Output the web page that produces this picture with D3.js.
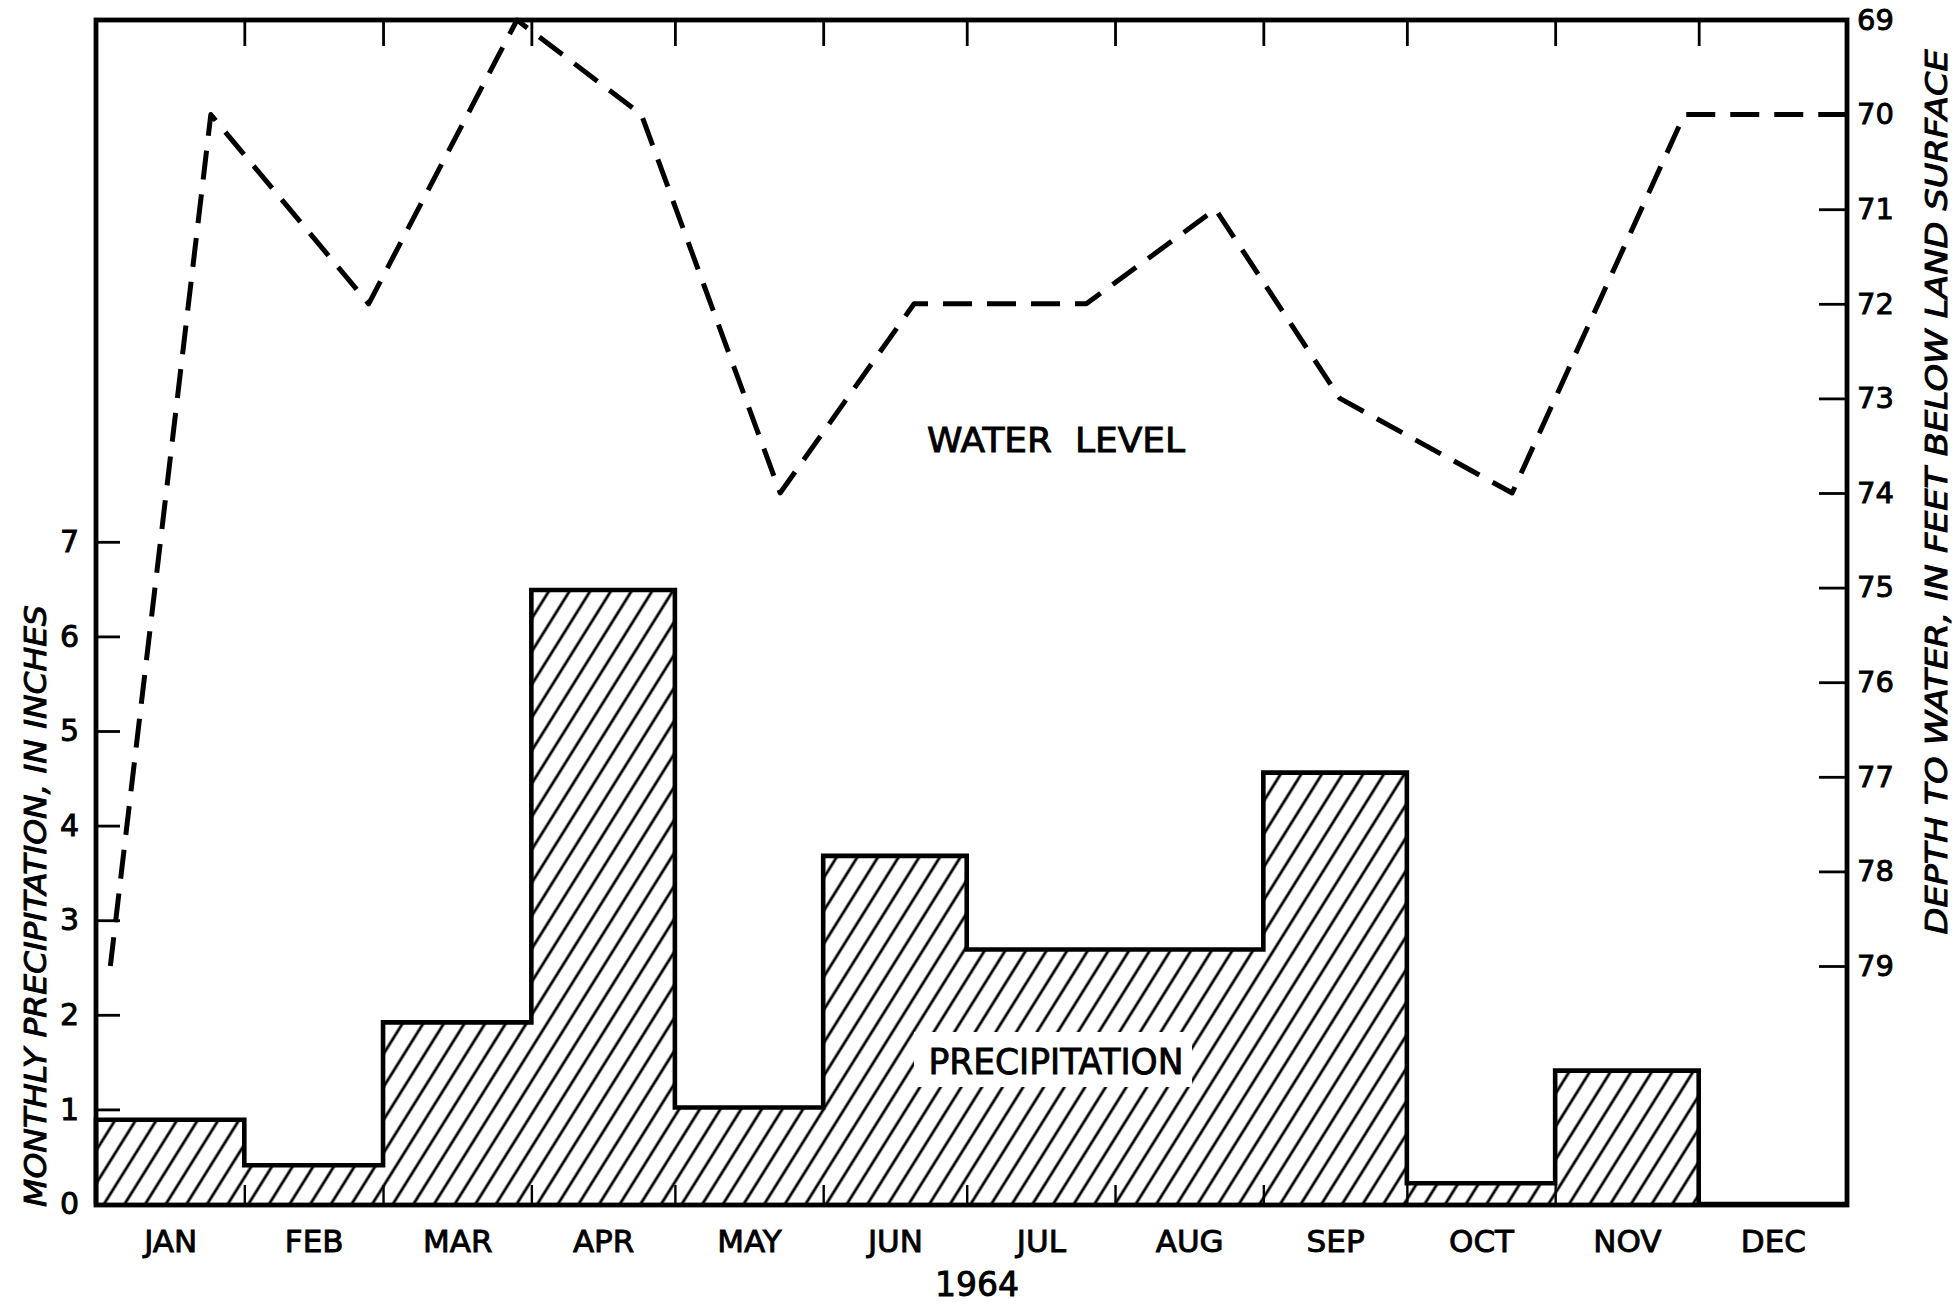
<!DOCTYPE html>
<html><head><meta charset="utf-8">
<script src="https://cdn.jsdelivr.net/npm/d3@7"></script>
<style>body{margin:0;background:#fff}svg{display:block}</style>
</head><body>
<svg id="chart" width="1955" height="1305"></svg>
<script>
// ---- data ----
const months = ["JAN","FEB","MAR","APR","MAY","JUN","JUL","AUG","SEP","OCT","NOV","DEC"];
const precipitation = [0.89, 0.41, 1.92, 6.49, 1.02, 3.68, 2.69, 2.69, 4.56, 0.22, 1.41, 0];
const levelDates = ["1964-01-04","1964-01-25","1964-02-27","1964-03-29","1964-04-24","1964-05-23",
                    "1964-06-20","1964-07-26","1964-08-22","1964-09-17","1964-10-23","1964-11-28","1965-01-01"];
const depthToWater = [79, 70, 72, 69, 70, 74, 72, 72, 71, 73, 74, 70, 70];
const precipTicks = [0,1,2,3,4,5,6,7];
const depthTicks = [69,70,71,72,73,74,75,76,77,78,79];
const yearLabel = "1964";
const leftTitle = "MONTHLY PRECIPITATION, IN INCHES";
const rightTitle = "DEPTH TO WATER, IN FEET BELOW LAND SURFACE";

// ---- layout ----
const L = 96, R = 1847, T = 20, B = 1205;
const parse = d3.utcParse("%Y-%m-%d");
const start = parse("1964-01-01"), end = parse("1965-01-01");
const monthStarts = d3.utcMonths(start, end);
const monthEnds = monthStarts.map(d => d3.utcMonth.offset(d, 1));
const monthMids = monthStarts.map((d,i) => new Date((+d + +monthEnds[i]) / 2));

const x = d3.scaleUtc().domain([start, end]).range([L, R]);
const yP = d3.scaleLinear().domain([0, 7]).range([1204, 1204 - 7*94.6]);
const yD = d3.scaleLinear().domain([69, 79]).range([T, T + 10*94.6]);

const svg = d3.select("#chart");
svg.append("rect").attr("width",1955).attr("height",1305).attr("fill","#fff");

const font = "'DejaVu Sans', 'Liberation Sans', sans-serif";
const heavy = sel => sel.attr("stroke","#000").attr("stroke-width",0.9).attr("fill","#000");

// hatch pattern
const defs = svg.append("defs");
const pat = defs.append("pattern").attr("id","hatch").attr("patternUnits","userSpaceOnUse")
  .attr("width",17.5).attr("height",40).attr("patternTransform","rotate(32)");
pat.append("line").attr("x1",8.75).attr("x2",8.75).attr("y1",-2).attr("y2",42)
  .attr("stroke","#000").attr("stroke-width",2.8);

// precipitation step area
const stepData = monthStarts.map((d,i) => ({date:d, v:precipitation[i]}));
stepData.push({date:end, v:precipitation[precipitation.length-1]});
const area = d3.area().curve(d3.curveStepAfter).x(d => x(d.date)).y0(yP(0)).y1(d => yP(d.v));
svg.append("path").datum(stepData).attr("d", area).attr("fill","url(#hatch)");

// white box behind PRECIPITATION label
svg.append("rect").attr("x",914).attr("y",1032).attr("width",278).attr("height",55).attr("fill","#fff");

// outline of bars
const line = d3.line().curve(d3.curveStepAfter).x(d => x(d.date)).y(d => yP(d.v));
const outline = [{date:start, v:0}].concat(stepData);
svg.append("path").datum(outline).attr("d", line).attr("fill","none")
  .attr("stroke","#000").attr("stroke-width",4.6).attr("stroke-linejoin","miter");

// axes
const interior = monthStarts.slice(1);
svg.append("g").attr("transform",`translate(0,${T})`)
  .call(d3.axisTop(x).tickValues(interior).tickSize(-26).tickFormat(""))
  .call(g => { g.select(".domain").remove(); g.selectAll("line").attr("stroke-width",2.8); });
svg.append("g").attr("transform",`translate(0,${B})`)
  .call(d3.axisBottom(x).tickValues(interior).tickSize(-20).tickFormat(""))
  .call(g => { g.select(".domain").remove(); g.selectAll("line").attr("stroke-width",2.4); });
svg.append("g").attr("transform",`translate(0,${B})`)
  .call(d3.axisBottom(x).tickValues(monthMids).tickSize(0).tickPadding(25).tickFormat((d,i) => months[i]))
  .call(g => { g.select(".domain").remove();
    g.selectAll("text").attr("font-family",font).attr("font-size",31).call(heavy); });

svg.append("g").attr("transform",`translate(${L},0)`)
  .call(d3.axisLeft(yP).tickValues(precipTicks).tickSize(-24).tickPadding(17).tickFormat(d3.format("d")))
  .call(g => { g.select(".domain").remove(); g.selectAll("line").attr("stroke-width",2.8);
    g.selectAll("text").attr("font-family",font).attr("font-size",30).call(heavy); });

svg.append("g").attr("transform",`translate(${R},0)`)
  .call(d3.axisRight(yD).tickValues(depthTicks).tickSize(-28).tickPadding(10).tickFormat(d3.format("d")))
  .call(g => { g.select(".domain").remove(); g.selectAll("line").attr("stroke-width",2.8);
    g.selectAll("text").attr("font-family",font).attr("font-size",29).call(heavy); });

// frame
svg.append("rect").attr("x",L).attr("y",T).attr("width",R-L).attr("height",B-T)
  .attr("fill","none").attr("stroke","#000").attr("stroke-width",4.8);

// water level dashed line
const wl = levelDates.map((d,i) => ({date:parse(d), v:depthToWater[i]}));
svg.append("path").datum(wl)
  .attr("d", d3.line().x(d => x(d.date)).y(d => yD(d.v)))
  .attr("fill","none").attr("stroke","#000").attr("stroke-width",5)
  .attr("stroke-dasharray","29,15").attr("stroke-linejoin","round");

// labels
svg.append("text").attr("x",1056).attr("y",452).attr("text-anchor","middle")
  .attr("font-family",font).attr("font-size",34).attr("textLength",258).attr("lengthAdjust","spacingAndGlyphs")
  .style("white-space","pre").text("WATER  LEVEL").call(heavy);
svg.append("text").attr("x",1056).attr("y",1074).attr("text-anchor","middle")
  .attr("font-family",font).attr("font-size",35).attr("textLength",255).attr("lengthAdjust","spacingAndGlyphs")
  .text("PRECIPITATION").call(heavy);
svg.append("text").attr("x",977).attr("y",1296).attr("text-anchor","middle")
  .attr("font-family",font).attr("font-size",33).text(yearLabel).call(heavy);

svg.append("text").attr("transform","translate(46,906) rotate(-90)").attr("text-anchor","middle")
  .attr("font-family",font).attr("font-style","italic").attr("font-size",30)
  .attr("textLength",602).attr("lengthAdjust","spacingAndGlyphs").text(leftTitle).call(heavy);
svg.append("text").attr("transform","translate(1947,492) rotate(-90)").attr("text-anchor","middle")
  .attr("font-family",font).attr("font-style","italic").attr("font-size",30)
  .attr("textLength",885).attr("lengthAdjust","spacingAndGlyphs").text(rightTitle).call(heavy);
</script>
</body></html>
